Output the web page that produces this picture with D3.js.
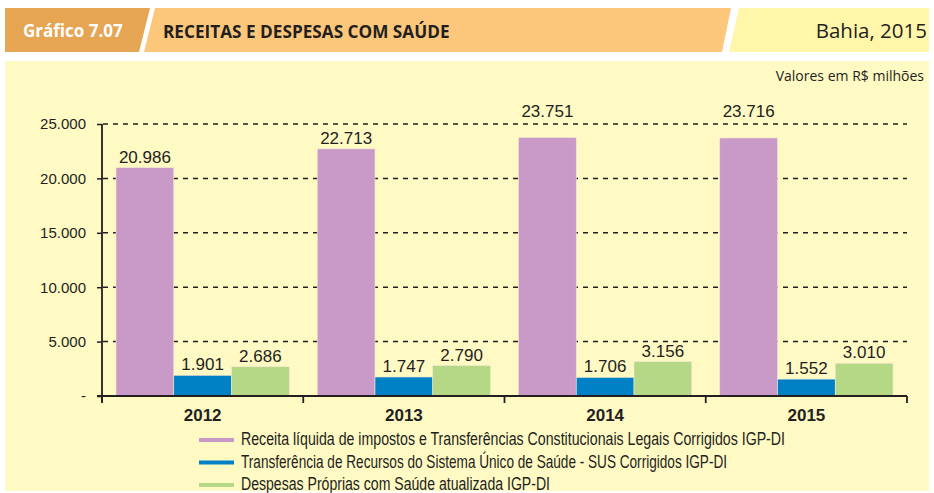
<!DOCTYPE html>
<html><head><meta charset="utf-8">
<script src="https://cdn.jsdelivr.net/npm/d3@7/dist/d3.min.js"></script>
<style>
html,body{margin:0;padding:0;background:#fff;}
svg{display:block;}
</style></head>
<body>
<svg id="c" width="934" height="493"></svg>
<script>
const years = ["2012","2013","2014","2015"];
const seriesNames = [
  "Receita líquida de impostos e Transferências Constitucionais Legais Corrigidos IGP-DI",
  "Transferência de Recursos do Sistema Único de Saúde - SUS Corrigidos IGP-DI",
  "Despesas Próprias com Saúde atualizada IGP-DI"
];
const receita = [20986, 22713, 23751, 23716];
const sus = [1901, 1747, 1706, 1552];
const despesas = [2686, 2790, 3156, 3010];
const yTicks = [0, 5000, 10000, 15000, 20000, 25000];
const colors = ["#C99AC7", "#0081C6", "#B5D886"];

const svg = d3.select("#c");
const NF = '"Liberation Sans",Arial,sans-serif';
const INK = "#231F20";
const fmt = v => v === 0 ? "-" : d3.format(",")(v).replace(/,/g, ".");

// Header
svg.append("path").attr("d","M5,8 L150,8 L139,52 L5,52 Z").attr("fill","#E5A552");
svg.append("path").attr("d","M155,8 L731,8 L722,52 L144,52 Z").attr("fill","#FDC77B");
svg.append("path").attr("d","M739,8 L929,8 L929,52 L729,52 Z").attr("fill","#FFF6AA");
svg.append("text").attr("x",23).attr("y",37).attr("fill","#fff")
  .attr("font-family","'Open Sans',sans-serif").attr("font-weight","bold").attr("font-size",17).text("Gráfico 7.07");
svg.append("text").attr("x",163).attr("y",38).attr("fill",INK)
  .attr("font-family","'Open Sans',sans-serif").attr("font-weight","bold").attr("font-size",17.2).text("RECEITAS E DESPESAS COM SAÚDE");
svg.append("text").attr("x",927).attr("y",38).attr("text-anchor","end").attr("fill",INK)
  .attr("font-family","'Open Sans',sans-serif").attr("font-size",20.5).text("Bahia, 2015");

// Panel
svg.append("rect").attr("x",5).attr("y",61).attr("width",924).attr("height",430).attr("fill","#FFF9C4");
svg.append("text").attr("x",924).attr("y",81).attr("text-anchor","end").attr("fill",INK)
  .attr("font-family","'Open Sans',sans-serif").attr("font-size",14).text("Valores em R$ milhões");

const x0 = d3.scaleBand().domain(years).range([102, 907]).paddingInner(0).paddingOuter(0);
const x1 = d3.scaleBand().domain([0,1,2]).range([14, x0.bandwidth()-14]).padding(0);
const y = d3.scaleLinear().domain([0, 25000]).range([396, 124]);
const gridYs = yTicks.filter(d=>d>0).map(d=>y(d));

// gridlines
svg.append("g").selectAll("line").data(yTicks.filter(d=>d>0)).join("line")
  .attr("x1",103).attr("x2",907).attr("y1",d=>y(d)).attr("y2",d=>y(d))
  .attr("stroke",INK).attr("stroke-width",1.5).attr("stroke-dasharray","5,5");

// bars
const series = [receita, sus, despesas];
const g = svg.append("g");
years.forEach((yr, i) => {
  series.forEach((s, j) => {
    g.append("rect").attr("x", x0(yr) + x1(j)).attr("y", y(s[i]))
      .attr("width", x1.bandwidth()).attr("height", y(0) - y(s[i]))
      .attr("fill", colors[j]).attr("stroke","#f3e6cf").attr("stroke-width",0.6);
    // label: just above bar, but lifted above a gridline it would overlap
    let base = y(s[i]) - 5;
    const hit = gridYs.find(gy => gy > base - 13 && gy < base + 2);
    if (hit !== undefined) base = hit - 7;
    g.append("text").attr("x", x0(yr) + x1(j) + x1.bandwidth()/2).attr("y", base)
      .attr("text-anchor","middle").attr("font-family",NF).attr("font-size",17).attr("fill",INK)
      .text(fmt(s[i]));
  });
});

// y axis
const ya = svg.append("g").attr("transform","translate(102,0)")
  .call(d3.axisLeft(y).tickValues(yTicks).tickFormat(fmt).tickSize(5).tickPadding(11));
ya.select(".domain").attr("d","M0,124 V402").attr("stroke",INK).attr("stroke-width",1.8);
ya.selectAll(".tick line").attr("stroke",INK).attr("stroke-width",1.5);
ya.selectAll(".tick text").attr("font-family",NF).attr("font-size",15).attr("fill",INK);

// x axis
const xa = svg.append("g").attr("transform","translate(0,396)")
  .call(d3.axisBottom(x0).tickSize(0).tickPadding(13));
xa.select(".domain").attr("d","M97,0 H907").attr("stroke",INK).attr("stroke-width",1.8);
xa.selectAll(".tick text").attr("font-family",NF).attr("font-weight","bold").attr("font-size",17).attr("fill",INK).attr("dy","0.71em");
svg.append("g").selectAll("line").data(years.map(d=>x0(d)).concat([907])).join("line")
  .attr("x1",d=>d).attr("x2",d=>d).attr("y1",396).attr("y2",403)
  .attr("stroke",INK).attr("stroke-width",1.8);

// legend
const legendW = [544, 486, 309];
const lg = svg.append("g");
seriesNames.forEach((n, i) => {
  const yy = 445 + i*22.5;
  lg.append("rect").attr("x",199).attr("y",yy-7).attr("width",35).attr("height",4).attr("fill",colors[i]);
  lg.append("text").attr("x",241).attr("y",yy).attr("font-family",NF).attr("font-size",17.5).attr("fill",INK)
    .attr("textLength",legendW[i]).attr("lengthAdjust","spacingAndGlyphs").text(n);
});
</script>
</body></html>
